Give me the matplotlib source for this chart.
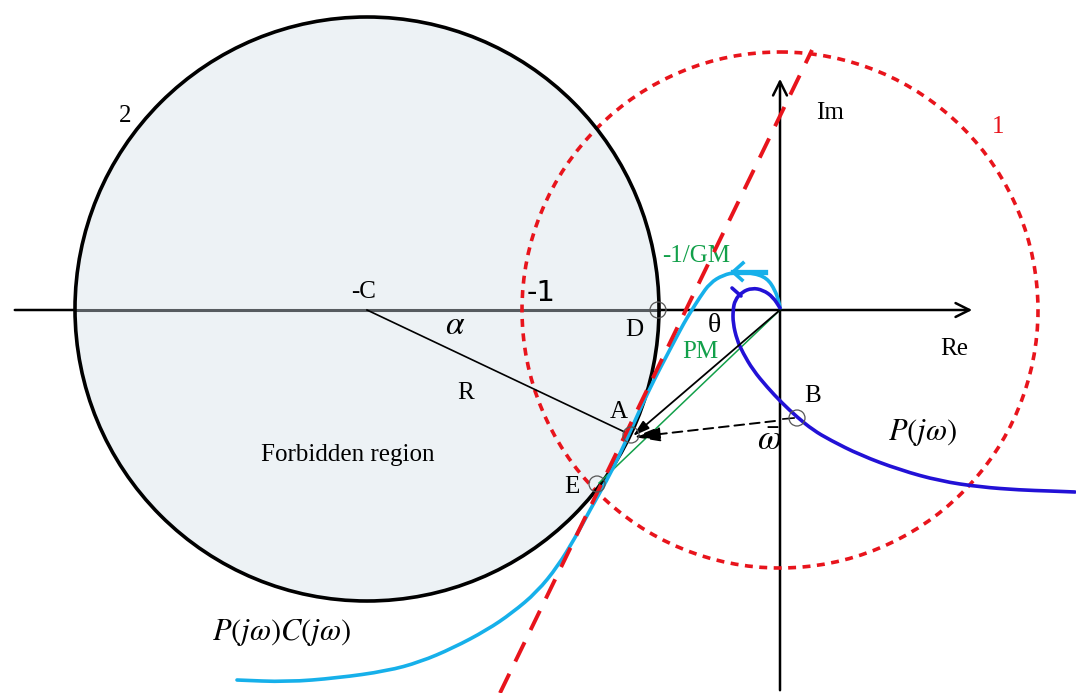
import numpy as np
import matplotlib.pyplot as plt
from matplotlib.patches import Circle, PathPatch
from matplotlib.path import Path

plt.rcParams['font.family'] = ['Liberation Serif', 'DejaVu Serif']
plt.rcParams['mathtext.fontset'] = 'stix'

# geometry in picture units (x right, y down)
origin = (780, 310)
big_center, big_r = (367, 309), 292
red_r = 258

# P(jw)C(jw) curve (light blue)
pc_x = [780, 779, 775, 767, 753, 737, 723, 710, 700, 690, 684, 676, 666, 654, 642, 630,
        619, 607, 590, 575, 558, 537, 512, 487, 453, 420, 387, 337, 287, 237]
pc_y = [308, 302, 290, 278, 273, 272, 275, 283, 297, 313, 323, 338, 357, 380, 405, 432,
        456, 480, 510, 538, 566, 592, 613, 630, 648, 662, 671, 678, 682, 680]

# P(jw) curve (blue)
p_x = [780, 773, 763, 752, 742, 735, 733, 733, 737, 743, 753, 767, 782, 797, 813,
       830, 860, 900, 940, 980, 1020, 1050, 1075]
p_y = [308, 297, 290, 288, 292, 300, 310, 323, 340, 353, 370, 387, 403, 417, 430,
       440, 455, 470, 481, 487, 490, 491, 492]

# tangent line (red dashed)
tan_x = [500, 812]
tan_y = [693, 50]

# marked points
pts = {'D': (658, 310), 'A': (631, 435), 'E': (597, 484), 'B': (797, 418)}


def smooth_path(xs, ys):
    # quadratic bezier path using the points as control points
    p = np.column_stack([xs, ys]).astype(float)
    verts = [p[0], (p[0] + p[1]) / 2]
    codes = [Path.MOVETO, Path.LINETO]
    for i in range(1, len(p) - 1):
        verts += [p[i], (p[i] + p[i + 1]) / 2]
        codes += [Path.CURVE3, Path.CURVE3]
    verts.append(p[-1])
    codes.append(Path.LINETO)
    return Path(verts, codes)


fig = plt.figure(figsize=(10.76, 6.93), dpi=100)
ax = fig.add_axes([0, 0, 1, 1])
ax.set_xlim(0, 1076)
ax.set_ylim(693, 0)
ax.axis('off')

# axes with arrows
ax.annotate('', xy=(975, 310), xytext=(12, 310),
            arrowprops=dict(arrowstyle='->,head_length=1.0,head_width=0.5', lw=1.8, color='black'), zorder=1)
ax.annotate('', xy=(780, 76), xytext=(780, 693),
            arrowprops=dict(arrowstyle='->,head_length=1.0,head_width=0.5', lw=1.8, color='black'), zorder=1)

# forbidden region (circle 2)
ax.add_patch(Circle(big_center, big_r, facecolor='#edf2f5', edgecolor='none', zorder=2))
ax.plot([big_center[0] - big_r, big_center[0] + big_r], [310, 310], color='#575c60', lw=2.2, zorder=3)
ax.add_patch(Circle(big_center, big_r, facecolor='none', edgecolor='black', lw=2.6, zorder=5))

# circle 1 (red dotted)
ax.add_patch(Circle(origin, red_r, facecolor='none', edgecolor='#e8141c', lw=2.6,
                    linestyle=(0, (2.2, 1.8)), zorder=4))

# radius line -C to A
ax.plot([big_center[0], pts['A'][0]], [310, pts['A'][1]], color='black', lw=1.2, zorder=6)

# green line origin to E
ax.plot([origin[0], 599], [origin[1], 483], color='#12a04a', lw=1.1, zorder=6)

# curves
ax.add_patch(PathPatch(smooth_path(pc_x, pc_y), facecolor='none', edgecolor='#16b0ea',
                       lw=2.6, capstyle='round', zorder=6))
ax.add_patch(PathPatch(smooth_path(p_x, p_y), facecolor='none', edgecolor='#2211d6',
                       lw=2.6, capstyle='round', zorder=6))

# small direction marks
ax.plot([733, 765], [272, 272], color='#16b0ea', lw=3.8, zorder=7)
ax.plot([743, 733, 742], [263, 272, 280], color='#16b0ea', lw=2.6, zorder=7)
ax.plot([732, 741], [288, 296], color='#2211d6', lw=2.6, zorder=7, solid_capstyle='round')

# tangent line
ax.plot(tan_x, tan_y, color='#e8141c', lw=2.8, linestyle=(0, (5.5, 3.5)), zorder=8)

# arrow origin -> A
ax.annotate('', xy=(633, 436), xytext=origin,
            arrowprops=dict(arrowstyle='-|>,head_length=1.0,head_width=0.3', lw=1.3,
                            color='black', shrinkA=0, shrinkB=0), zorder=9)
# dashed arrow B -> A
ax.annotate('', xy=(634, 437), xytext=(775, 421),
            arrowprops=dict(arrowstyle='-|>,head_length=1.6,head_width=0.45', lw=1.4,
                            color='black', linestyle=(0, (5, 3)), shrinkA=0, shrinkB=0), zorder=9)
ax.plot([783, 794], [419, 418], color='black', lw=1.2, zorder=9)

for name, (px, py) in pts.items():
    ax.add_patch(Circle((px, py), 8, facecolor='none', edgecolor='#555555', lw=0.9, zorder=10))

# labels
fs = 18
ax.text(125, 116, '2', fontsize=fs, ha='center', va='center')
ax.text(998, 127, '1', fontsize=fs, ha='center', va='center', color='#e8141c')
ax.text(830, 113, 'Im', fontsize=fs, ha='center', va='center')
ax.text(954, 349, 'Re', fontsize=fs, ha='center', va='center')
ax.text(364, 292, '-C', fontsize=fs, ha='center', va='center')
ax.text(541, 293, '-1', fontsize=21, ha='center', va='center', family=['DejaVu Sans'])
ax.text(455, 326, r'$\alpha$', fontsize=24, ha='center', va='center')
ax.text(466, 393, 'R', fontsize=fs, ha='center', va='center')
ax.text(634, 330, 'D', fontsize=fs, ha='center', va='center')
ax.text(714, 325, 'θ', fontsize=fs + 2, ha='center', va='center')
ax.text(700, 352, 'PM', fontsize=fs, ha='center', va='center', color='#12a04a')
ax.text(696, 256, '-1/GM', fontsize=fs, ha='center', va='center', color='#12a04a')
ax.text(619, 412, 'A', fontsize=fs, ha='center', va='center')
ax.text(572, 487, 'E', fontsize=fs, ha='center', va='center')
ax.text(813, 396, 'B', fontsize=fs, ha='center', va='center')
ax.text(769, 442, r'$\bar{\omega}$', fontsize=25, ha='center', va='center')
ax.text(348, 455, 'Forbidden region', fontsize=fs, ha='center', va='center')
ax.text(922, 432, r'$P(j\omega)$', fontsize=22, ha='center', va='center')
ax.text(282, 633, r'$P(j\omega)C(j\omega)$', fontsize=22, ha='center', va='center')

fig.savefig('out.png', dpi=100)
